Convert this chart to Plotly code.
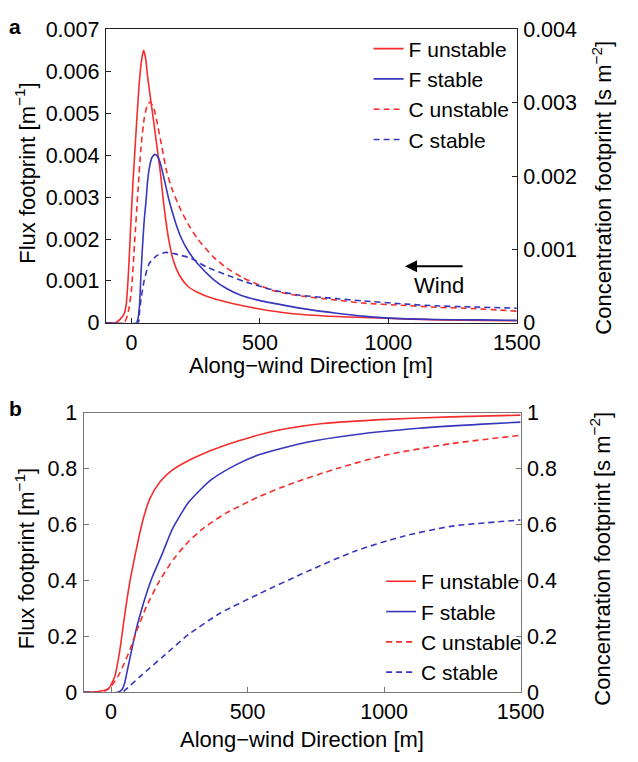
import plotly.graph_objects as go

# ---------------- Panel a: footprints ----------------
xa_fu = [-100, -64, -44, -30, -21, -12, -6, 0, 6, 12, 19, 31, 40, 47, 55, 62, 75, 87, 100, 112, 125,
         143, 162, 187, 218, 256, 318, 424, 500, 611, 800, 986, 1200, 1500]
ya_fu = [0, 0, 0.00009, 0.0002, 0.00043, 0.00119, 0.00196, 0.0027, 0.0034, 0.0040, 0.0047, 0.0058,
         0.0063, 0.0065, 0.0063, 0.0059, 0.0053, 0.00476, 0.00415, 0.0036, 0.00285, 0.00205, 0.0015,
         0.00113, 0.00088, 0.00073, 0.00058, 0.00042, 0.00033, 0.00023, 0.00015, 0.00011, 0.00007, 0.00005]

xa_fs = [-100, 19, 25, 31, 37, 44, 50, 56, 62, 70, 80, 91, 100, 110, 120, 130, 145, 160, 175, 193,
         220, 256, 318, 370, 425, 500, 612, 700, 799, 900, 987, 1174, 1350, 1500]
ya_fs = [0, 0, 0.0001, 0.00042, 0.0012, 0.00196, 0.0025, 0.00288, 0.00335, 0.00372, 0.00395, 0.00402,
         0.00398, 0.00385, 0.00362, 0.00335, 0.00295, 0.00262, 0.00232, 0.00203, 0.00172, 0.00142,
         0.00104, 0.00082, 0.00066, 0.00053, 0.0004, 0.00031, 0.00023, 0.00016, 0.00012, 0.00008,
         0.00007, 0.00006]

xa_cu = [-100, -30, -19, -10, 0, 12, 25, 37, 50, 62, 72, 87, 100, 118, 137, 160, 193, 220, 256, 318,
         370, 431, 500, 549, 650, 799, 900, 1049, 1200, 1298, 1500]
ya_cu = [0, 0, 0.00007, 0.0002, 0.00046, 0.0011, 0.0018, 0.0024, 0.0028, 0.00297, 0.00301, 0.00292,
         0.00272, 0.0024, 0.00206, 0.0018, 0.00153, 0.00135, 0.00115, 0.0009, 0.00075, 0.00062, 0.00051,
         0.00044, 0.00037, 0.00031, 0.00027, 0.00024, 0.00021, 0.0002, 0.00016]

xa_cs = [-100, 25, 31, 37, 50, 69, 100, 131, 169, 231, 293, 381, 443, 549, 650, 799, 900, 1049,
         1200, 1298, 1500]
ya_cs = [0, 0, 0.00015, 0.00033, 0.00059, 0.00081, 0.00092, 0.00096, 0.00094, 0.00088, 0.00076,
         0.00064, 0.00056, 0.00045, 0.00038, 0.00033, 0.0003, 0.00026, 0.00023, 0.00022, 0.0002]

# ---------------- Panel b: cumulative footprints ----------------
xb_fu = [-100, -45, -10, 14, 32, 49, 67, 88, 102, 119, 143, 178, 225, 284, 342, 400, 459, 518, 576,
         650, 776, 1010, 1244, 1500]
yb_fu = [0, 0.003, 0.012, 0.058, 0.15, 0.27, 0.385, 0.49, 0.555, 0.625, 0.695, 0.752, 0.796, 0.83,
         0.856, 0.878, 0.898, 0.915, 0.93, 0.945, 0.962, 0.977, 0.986, 0.992]

xb_fs = [-100, 26, 40, 49, 60, 73, 85, 96, 119, 150, 185, 225, 284, 366, 459, 541, 717, 892, 1127,
         1360, 1500]
yb_fs = [0, 0, 0.01, 0.03, 0.08, 0.14, 0.195, 0.24, 0.32, 0.41, 0.49, 0.585, 0.68, 0.76, 0.815, 0.85,
         0.895, 0.922, 0.945, 0.96, 0.967]

xb_cu = [-100, -21, 2, 26, 49, 73, 96, 131, 178, 230, 284, 342, 424, 541, 658, 834, 1010, 1244, 1500]
yb_cu = [0, 0.006, 0.024, 0.058, 0.105, 0.162, 0.225, 0.31, 0.40, 0.478, 0.54, 0.59, 0.643, 0.7,
         0.746, 0.803, 0.85, 0.89, 0.92]

xb_cs = [-100, 40, 49, 108, 190, 284, 401, 541, 717, 892, 1068, 1244, 1500]
yb_cs = [0, 0, 0.006, 0.058, 0.128, 0.207, 0.284, 0.352, 0.432, 0.505, 0.558, 0.594, 0.617]

names = ["F unstable", "F stable", "C unstable", "C stable"]
x_ticks = [0, 500, 1000, 1500]

RED = "rgb(245,45,45)"
BLUE = "rgb(55,55,190)"
FONT = "Liberation Sans, Arial, sans-serif"
TICK_FS = 21.5
TITLE_FS = 22
LEG_FS = 21

fig = go.Figure()

def add(x, y, name, color, dash, xa, ya, legend):
    fig.add_trace(go.Scatter(
        x=x, y=y, name=name, mode="lines",
        line=dict(color=color, width=1.6, dash=dash, shape="spline", smoothing=0.6),
        xaxis=xa, yaxis=ya, legend=legend, showlegend=True))

D = "6px,4px"
add(xa_fu, ya_fu, names[0], RED, "solid", "x", "y", "legend")
add(xa_fs, ya_fs, names[1], BLUE, "solid", "x", "y", "legend")
add(xa_cu, ya_cu, names[2], RED, D, "x", "y2", "legend")
add(xa_cs, ya_cs, names[3], BLUE, D, "x", "y2", "legend")

add(xb_fu, yb_fu, names[0], RED, "solid", "x2", "y3", "legend2")
add(xb_fs, yb_fs, names[1], BLUE, "solid", "x2", "y3", "legend2")
add(xb_cu, yb_cu, names[2], RED, D, "x2", "y4", "legend2")
add(xb_cs, yb_cs, names[3], BLUE, D, "x2", "y4", "legend2")

W, H = 638, 762

def fx(px):
    return px / W

def fy(py):
    return 1 - py / H

tf = dict(family=FONT, size=TICK_FS, color="black")

def xaxis(dom, anchor, lc):
    return dict(domain=dom, anchor=anchor, range=[-100, 1500], tickvals=x_ticks,
                ticks="inside", ticklen=5, tickcolor=lc, showline=True, mirror=True,
                linecolor=lc, linewidth=1.2, showgrid=False, zeroline=False, tickfont=tf)

def yaxis(dom, anchor, rng, dtick, lc, side="left", overlay=None):
    d = dict(anchor=anchor, range=rng, dtick=dtick, ticks="inside", ticklen=5, tickcolor=lc,
             showline=True, linecolor=lc, linewidth=1.2, showgrid=False, zeroline=False,
             tickfont=tf, side=side, ticklabelstandoff=1)
    if dom is not None:
        d["domain"] = dom
    if overlay:
        d["overlaying"] = overlay
    return d

LC_A = "#222222"
LC_B = "#777777"

legend_common = dict(bgcolor="rgba(0,0,0,0)", font=dict(family=FONT, size=LEG_FS, color="black"),
                     xanchor="left", yanchor="top", tracegroupgap=0, itemwidth=30)

fig.update_layout(
    width=W, height=H, autosize=False,
    margin=dict(l=0, r=0, t=0, b=0),
    paper_bgcolor="white", plot_bgcolor="white",
    font=dict(family=FONT, size=TICK_FS, color="black"),
    xaxis=xaxis([fx(110), fx(537)], "y", LC_A),
    yaxis=yaxis([fy(322), fy(19)], "x", [0, 0.007], 0.001, LC_A),
    yaxis2=yaxis(None, "x", [0, 0.004], 0.001, LC_A, side="right", overlay="y"),
    xaxis2=xaxis([fx(87), fx(541)], "y3", LC_B),
    yaxis3=yaxis([fy(703.5), fy(415)], "x2", [0, 1], 0.2, LC_B),
    yaxis4=yaxis(None, "x2", [0, 1], 0.2, LC_B, side="right", overlay="y3"),
    legend=dict(x=fx(383), y=fy(18), **legend_common),
    legend2=dict(x=fx(396), y=fy(568), **legend_common),
    showlegend=True,
)

ann = []
def text(px, py, t, angle=0, size=TITLE_FS, bold=False):
    if bold:
        t = "<b>" + t + "</b>"
    ann.append(dict(x=fx(px), y=fy(py), xref="paper", yref="paper", text=t, showarrow=False,
                    textangle=angle, xanchor="center", yanchor="middle",
                    font=dict(family=FONT, size=size, color="black")))

text(16, 16, "a", size=21, bold=True)
text(16, 410, "b", size=21, bold=True)
text(26, 168, "Flux footprint [m<sup>−1</sup>]", angle=-90)
text(626, 182, "Concentration footprint [s m<sup>−2</sup>]", angle=-90)
text(323, 366, "Along−wind Direction [m]")
text(26, 566, "Flux footprint [m<sup>−1</sup>]", angle=-90)
text(624, 566, "Concentration footprint [s m<sup>−2</sup>]", angle=-90)
text(314, 752, "Along−wind Direction [m]")

# wind arrow in data coordinates of panel a
ann.append(dict(x=1065, y=0.00135, ax=1295, ay=0.00135, xref="x", yref="y", axref="x", ayref="y",
                text="", showarrow=True, arrowhead=2, arrowsize=1.2, arrowwidth=2, arrowcolor="black"))
ann.append(dict(x=1199, y=0.00088, xref="x", yref="y", text="Wind", showarrow=False,
                font=dict(family=FONT, size=TITLE_FS, color="black")))

fig.update_layout(annotations=ann)

fig.write_html("out.html")
